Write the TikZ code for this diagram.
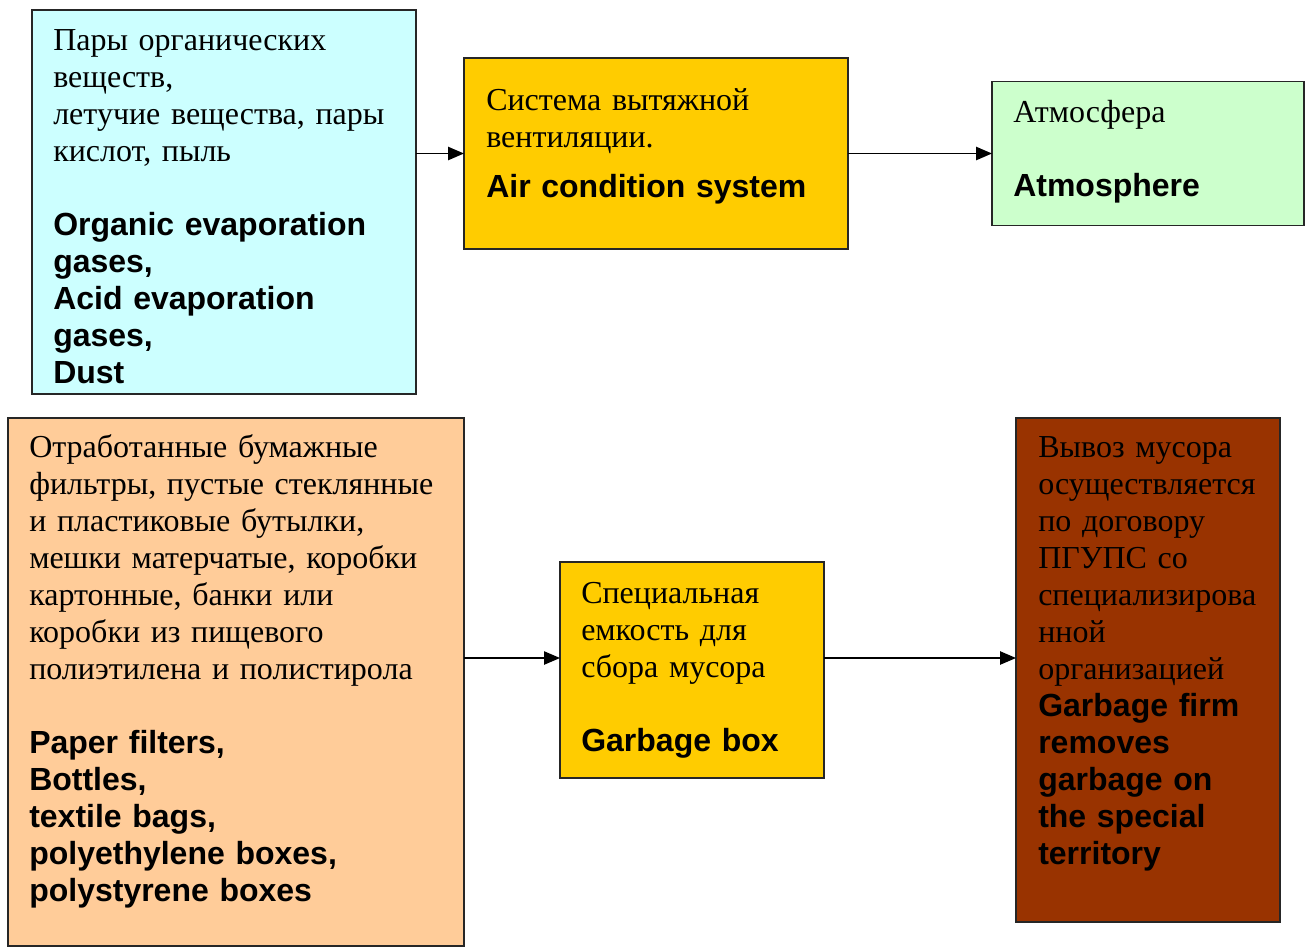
\documentclass[tikz,border=0pt]{standalone}
\usepackage{fontspec}
\setmainfont{Liberation Serif}
\setsansfont{Liberation Sans}
\usetikzlibrary{positioning,arrows.meta}
\definecolor{ventcyan}{HTML}{CCFFFF}
\definecolor{ventgold}{HTML}{FFCC00}
\definecolor{atmgreen}{HTML}{CCFFCC}
\definecolor{wastepeach}{HTML}{FFCC99}
\definecolor{firmbrown}{HTML}{993300}
\newcommand\eng{\sffamily\bfseries}
\tikzset{
  line/.style    = {-{Triangle[length=12pt, width=10pt]}, line width=1.1pt},
  box/.style     = {draw=black!85, line width=1.2pt, anchor=north west, inner sep=0pt, outer sep=0pt},
  boxtext/.style = {anchor=base west, inner sep=0pt, align=left, text width=380pt,
                    font=\fontsize{24}{27.75}\selectfont},
}

\begin{document}
\begin{tikzpicture}[x=0.75pt, y=-0.75pt]
  \useasboundingbox (0,0) rectangle (1306,947);
  % top row: exhaust air
  \node[box, fill=ventcyan, minimum width=288pt, minimum height=288pt] (vapor) at (32,10) {};
  \node[box, fill=ventgold, minimum width=288pt, minimum height=143.25pt] (air) at (464,58) {};
  \node[box, fill=atmgreen, minimum width=234pt, minimum height=108pt, right=108pt of air] (atm) {};
  % bottom row: solid waste
  \node[box, fill=wastepeach, minimum width=342pt, minimum height=396pt] (waste) at (8,418) {};
  \node[box, fill=ventgold, minimum width=198pt, minimum height=162pt] (bin) at (560,562) {};
  \node[box, fill=firmbrown, minimum width=198pt, minimum height=378pt, right=144pt of bin] (firm) {};

  \node[boxtext] (vapor-txt) at ([shift={(21,40)}]vapor.north west)
    {Пары органических\\ веществ,\\ летучие вещества, пары\\ кислот, пыль\\[27.75pt]
     \eng Organic evaporation\\ gases,\\ Acid evaporation\\ gases,\\ Dust};
  \node[boxtext] (air-txt) at ([shift={(22,52)}]air.north west)
    {Система вытяжной\\ вентиляции.\\[9.75pt] \eng Air condition system};
  \node[boxtext] (atm-txt) at ([shift={(21,41)}]atm.north west)
    {Атмосфера\\[27.75pt] \eng Atmosphere};
  \node[boxtext] (waste-txt) at ([shift={(21,39)}]waste.north west)
    {Отработанные бумажные\\ фильтры, пустые стеклянные\\ и пластиковые бутылки,\\
     мешки матерчатые, коробки\\ картонные, банки или\\ коробки из пищевого\\
     полиэтилена и полистирола\\[27.75pt]
     \eng Paper filters,\\ Bottles,\\ textile bags,\\ polyethylene boxes,\\ polystyrene boxes};
  \node[boxtext] (bin-txt) at ([shift={(21,41)}]bin.north west)
    {Специальная\\ емкость для\\ сбора мусора\\[27.75pt] \eng Garbage box};
  \node[boxtext] (firm-txt) at ([shift={(22,39)}]firm.north west)
    {Вывоз мусора\\ осуществляется\\ по договору\\ ПГУПС со\\ специализирова\\ нной\\ организацией\\
     \eng Garbage firm\\ removes\\ garbage on\\ the special\\ territory};

  \coordinate (bin-in) at ([yshift=9pt]bin.west);
  \coordinate (firm-in) at ([yshift=9pt]firm.west);
  \draw[line] (vapor.east |- air.west) -- (air.west);
  \draw[line] (air.east) -- (atm.west);
  \draw[line] (waste.east |- bin-in) -- (bin-in);
  \draw[line] (bin.east |- firm-in) -- (firm-in);
\end{tikzpicture}
\end{document}
